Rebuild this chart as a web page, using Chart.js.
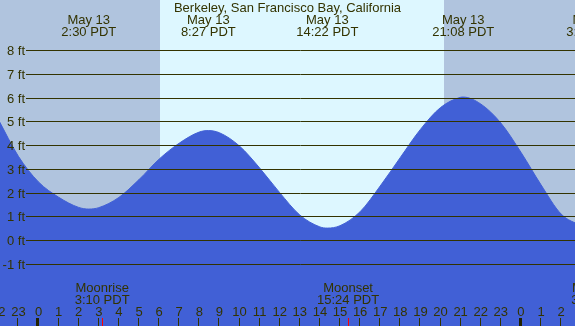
<!DOCTYPE html>
<html lang="en">
<head>
    <meta charset="UTF-8">
    <title>Berkeley Tide Chart</title>
    <style>
        body {
            margin: 0;
            background-color: #ffffff;
        }
        #chart-box {
            width: 575px;
            height: 326px;
        }
    </style>
</head>
<body>
    <div id="chart-box">
        <canvas id="tideChart" width="575" height="326"></canvas>
    </div>

    <script src="https://cdn.jsdelivr.net/npm/chart.js"></script>
    <script>
        // Tide height (ft), hours from midnight May 13 (PDT)
        const tideHours   = [-2, -1, 0, 1, 2, 2.5, 3, 4, 5, 6, 7, 8, 8.45, 9, 10, 11, 12, 13, 14, 14.37, 15, 16, 17, 18, 19, 20, 21, 21.13, 22, 23, 24, 25, 26, 27];
        const tideHeights = [5.1, 3.55, 2.47, 1.83, 1.40, 1.33, 1.39, 1.82, 2.57, 3.43, 4.10, 4.57, 4.63, 4.54, 3.98, 3.06, 2.02, 1.08, 0.58, 0.53, 0.63, 1.22, 2.30, 3.50, 4.68, 5.60, 6.03, 6.04, 5.75, 4.95, 3.72, 2.35, 1.12, 0.62];

        // high / low labels along the top
        const eventHours = [2.5, 8.45, 14.37, 21.13, 27.62];
        const eventDates = ['May 13', 'May 13', 'May 13', 'May 13', 'May 14'];
        const eventTimes = ['2:30 PDT', '8:27 PDT', '14:22 PDT', '21:08 PDT', '3:37 PDT'];

        // moon events along the bottom
        const moonHours = [3.167, 15.4, 27.87];
        const moonNames = ['Moonrise', 'Moonset', 'Moonrise'];
        const moonTimes = ['3:10 PDT', '15:24 PDT', '3:53 PDT'];

        // night shading (sunset -> sunrise)
        const nightStarts = [-4, 20.174];
        const nightEnds   = [6.045, 30];

        // horizontal grid lines
        const gridFeet = [-1, 0, 1, 2, 3, 4, 5, 6, 7, 8];
        // hour ticks along the bottom
        const tickHours = [-2, -1, 0, 1, 2, 3, 4, 5, 6, 7, 8, 9, 10, 11, 12, 13, 14, 15, 16, 17, 18, 19, 20, 21, 22, 23, 24, 25, 26, 27];

        const title = 'Berkeley, San Francisco Bay, California';

        var waterColor = '#4160d6';
        var dayColor = '#ddf7ff';
        var nightColor = '#b0c4de';
        var inkColor = '#333300';
        var font = '13px "Liberation Sans", Arial, sans-serif';

        const tideDecor = {
            id: 'tideDecor',
            beforeDatasetsDraw(chart) {
                const ctx = chart.ctx, a = chart.chartArea, x = chart.scales.x;
                ctx.save();
                ctx.fillStyle = dayColor;
                ctx.fillRect(a.left, a.top, a.width, a.height);
                ctx.fillStyle = nightColor;
                for (let i = 0; i < nightStarts.length; i++) {
                    const x0 = x.getPixelForValue(nightStarts[i]);
                    const x1 = x.getPixelForValue(nightEnds[i]);
                    ctx.fillRect(x0, a.top, x1 - x0, a.height);
                }
                ctx.restore();
            },
            afterDatasetsDraw(chart) {
                const ctx = chart.ctx, a = chart.chartArea;
                const x = chart.scales.x, y = chart.scales.y;
                ctx.save();
                ctx.font = font;
                ctx.fillStyle = inkColor;
                ctx.strokeStyle = inkColor;
                ctx.lineWidth = 1;

                // feet grid + labels
                ctx.textAlign = 'right';
                gridFeet.forEach(v => {
                    const py = Math.floor(y.getPixelForValue(v)) + 0.5;
                    ctx.beginPath();
                    ctx.moveTo(26, py);
                    ctx.lineTo(a.right, py);
                    ctx.stroke();
                    ctx.fillText(v + ' ft', 25, py + 4.5);
                });

                // title and tide events
                ctx.textAlign = 'center';
                ctx.fillText(title, (a.left + a.right) / 2, 12);
                eventHours.forEach((h, i) => {
                    const px = x.getPixelForValue(h);
                    ctx.fillText(eventDates[i], px, 24);
                    ctx.fillText(eventTimes[i], px, 36);
                });

                // moon events
                moonHours.forEach((h, i) => {
                    const px = x.getPixelForValue(h);
                    ctx.fillText(moonNames[i], px, 292);
                    ctx.fillText(moonTimes[i], px, 304);
                });

                // hour labels and ticks
                tickHours.forEach(h => {
                    const px = x.getPixelForValue(h);
                    const label = String(((h % 24) + 24) % 24);
                    ctx.fillText(label, px, 316);
                    if (h % 24 === 0) {
                        ctx.fillStyle = '#222200';
                        ctx.fillRect(Math.round(px) - 2, 318, 3, a.bottom - 318);
                        ctx.fillStyle = inkColor;
                    } else {
                        ctx.fillRect(Math.round(px) - 1, 318, 1, a.bottom - 318);
                    }
                });
                ctx.fillStyle = '#ff0000';
                moonHours.forEach(h => {
                    const px = x.getPixelForValue(h);
                    ctx.fillRect(Math.round(px), 318, 1, a.bottom - 318);
                });
                ctx.restore();
            }
        };

        var tideCtx = document.getElementById('tideChart').getContext('2d');
        var tideChart = new Chart(tideCtx, {
            type: 'line',
            data: {
                datasets: [{
                    label: 'Tide',
                    data: tideHours.map((h, i) => ({ x: h, y: tideHeights[i] })),
                    fill: 'start',
                    backgroundColor: waterColor,
                    borderColor: waterColor,
                    borderWidth: 1,
                    pointRadius: 0,
                    cubicInterpolationMode: 'monotone'
                }]
            },
            options: {
                responsive: false,
                animation: false,
                layout: { padding: 0 },
                plugins: {
                    legend: { display: false },
                    tooltip: { enabled: false }
                },
                scales: {
                    x: { type: 'linear', min: -1.915, max: 26.69, display: false },
                    y: { type: 'linear', min: -3.587, max: 10.122, display: false }
                }
            },
            plugins: [tideDecor]
        });
    </script>
</body>
</html>
